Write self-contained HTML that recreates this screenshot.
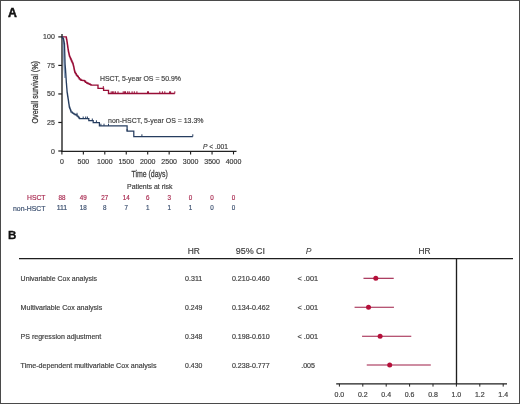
<!DOCTYPE html>
<html><head><meta charset="utf-8"><style>
html,body{margin:0;padding:0;background:#fff;}
#fig{position:relative;width:520px;height:404px;overflow:hidden;background:#fff;}
svg{display:block;font-family:"Liberation Sans", sans-serif;}
#fig{will-change:transform;}
</style></head><body><div id="fig">
<svg width="520" height="404" viewBox="0 0 520 404">
<rect x="0.5" y="0.5" width="519" height="403" fill="#fff" stroke="#4a4a4a" stroke-width="1"/>
<text x="7.9" y="16.6" font-size="12.1" fill="#111" textLength="8.9" lengthAdjust="spacingAndGlyphs" font-weight="bold" stroke="#111" stroke-width="0.45">A</text>
<line x1="62.0" y1="34.0" x2="62.0" y2="152.0" stroke="#333" stroke-width="1.5"/>
<line x1="61.3" y1="151.4" x2="236.5" y2="151.4" stroke="#222" stroke-width="1.25"/>
<line x1="58.3" y1="151.0" x2="61.9" y2="151.0" stroke="#1a1a1a" stroke-width="1.2"/>
<line x1="58.3" y1="122.475" x2="61.9" y2="122.475" stroke="#1a1a1a" stroke-width="1.2"/>
<line x1="58.3" y1="93.95" x2="61.9" y2="93.95" stroke="#1a1a1a" stroke-width="1.2"/>
<line x1="58.3" y1="65.425" x2="61.9" y2="65.425" stroke="#1a1a1a" stroke-width="1.2"/>
<line x1="58.3" y1="36.900000000000006" x2="61.9" y2="36.900000000000006" stroke="#1a1a1a" stroke-width="1.2"/>
<line x1="61.9" y1="151.4" x2="61.9" y2="154.4" stroke="#1a1a1a" stroke-width="1.1"/>
<line x1="83.35" y1="151.4" x2="83.35" y2="154.4" stroke="#1a1a1a" stroke-width="1.1"/>
<line x1="104.8" y1="151.4" x2="104.8" y2="154.4" stroke="#1a1a1a" stroke-width="1.1"/>
<line x1="126.25" y1="151.4" x2="126.25" y2="154.4" stroke="#1a1a1a" stroke-width="1.1"/>
<line x1="147.7" y1="151.4" x2="147.7" y2="154.4" stroke="#1a1a1a" stroke-width="1.1"/>
<line x1="169.15" y1="151.4" x2="169.15" y2="154.4" stroke="#1a1a1a" stroke-width="1.1"/>
<line x1="190.6" y1="151.4" x2="190.6" y2="154.4" stroke="#1a1a1a" stroke-width="1.1"/>
<line x1="212.05" y1="151.4" x2="212.05" y2="154.4" stroke="#1a1a1a" stroke-width="1.1"/>
<line x1="233.5" y1="151.4" x2="233.5" y2="154.4" stroke="#1a1a1a" stroke-width="1.1"/>
<text x="54.8" y="153.5" font-size="7" fill="#404040" text-anchor="end" stroke="#404040" stroke-width="0.18">0</text>
<text x="54.8" y="124.97" font-size="7" fill="#404040" text-anchor="end" stroke="#404040" stroke-width="0.18">25</text>
<text x="54.8" y="96.45" font-size="7" fill="#404040" text-anchor="end" stroke="#404040" stroke-width="0.18">50</text>
<text x="54.8" y="67.92" font-size="7" fill="#404040" text-anchor="end" stroke="#404040" stroke-width="0.18">75</text>
<text x="54.8" y="39.4" font-size="7" fill="#404040" text-anchor="end" stroke="#404040" stroke-width="0.18">100</text>
<text x="61.9" y="163.9" font-size="7" fill="#404040" text-anchor="middle" stroke="#404040" stroke-width="0.18">0</text>
<text x="83.35" y="163.9" font-size="7" fill="#404040" text-anchor="middle" stroke="#404040" stroke-width="0.18">500</text>
<text x="104.8" y="163.9" font-size="7" fill="#404040" text-anchor="middle" stroke="#404040" stroke-width="0.18">1000</text>
<text x="126.25" y="163.9" font-size="7" fill="#404040" text-anchor="middle" stroke="#404040" stroke-width="0.18">1500</text>
<text x="147.7" y="163.9" font-size="7" fill="#404040" text-anchor="middle" stroke="#404040" stroke-width="0.18">2000</text>
<text x="169.15" y="163.9" font-size="7" fill="#404040" text-anchor="middle" stroke="#404040" stroke-width="0.18">2500</text>
<text x="190.6" y="163.9" font-size="7" fill="#404040" text-anchor="middle" stroke="#404040" stroke-width="0.18">3000</text>
<text x="212.05" y="163.9" font-size="7" fill="#404040" text-anchor="middle" stroke="#404040" stroke-width="0.18">3500</text>
<text x="233.5" y="163.9" font-size="7" fill="#404040" text-anchor="middle" stroke="#404040" stroke-width="0.18">4000</text>
<text transform="translate(38.3,123.6) rotate(-90)" x="0" y="0" font-size="9.5" fill="#383838" stroke="#383838" stroke-width="0.28" textLength="62.6" lengthAdjust="spacingAndGlyphs">Overall survival (%)</text>
<text x="131.4" y="176.8" font-size="9.0" fill="#404040" textLength="36.4" lengthAdjust="spacingAndGlyphs" stroke="#404040" stroke-width="0.26">Time (days)</text>
<text x="203.0" y="148.8" font-size="6.6" fill="#404040" textLength="25.0" lengthAdjust="spacingAndGlyphs" stroke="#404040" stroke-width="0.18"><tspan font-style="italic">P</tspan> &lt; .001</text>
<text x="100.0" y="80.9" font-size="7.6" fill="#404040" textLength="81.0" lengthAdjust="spacingAndGlyphs" stroke="#404040" stroke-width="0.18">HSCT, 5-year OS = 50.9%</text>
<text x="108.1" y="122.6" font-size="7.6" fill="#404040" textLength="95.4" lengthAdjust="spacingAndGlyphs" stroke="#404040" stroke-width="0.18">non-HSCT, 5-year OS = 13.3%</text>
<text x="127.0" y="188.6" font-size="7.0" fill="#404040" textLength="45.5" lengthAdjust="spacingAndGlyphs" stroke="#404040" stroke-width="0.18">Patients at risk</text>
<text x="27.0" y="199.6" font-size="7.7" fill="#a8284f" textLength="18.5" lengthAdjust="spacingAndGlyphs" stroke="#a8284f" stroke-width="0.18">HSCT</text>
<text x="13.0" y="210.5" font-size="7.6" fill="#3a4e6e" textLength="32.5" lengthAdjust="spacingAndGlyphs" stroke="#3a4e6e" stroke-width="0.18">non-HSCT</text>
<text x="61.9" y="199.5" font-size="7.3" fill="#a8284f" text-anchor="middle" textLength="7.0" lengthAdjust="spacingAndGlyphs" stroke="#a8284f" stroke-width="0.18">88</text>
<text x="61.9" y="210.4" font-size="7.3" fill="#3a4e6e" text-anchor="middle" textLength="10.5" lengthAdjust="spacingAndGlyphs" stroke="#3a4e6e" stroke-width="0.18">111</text>
<text x="83.35" y="199.5" font-size="7.3" fill="#a8284f" text-anchor="middle" textLength="7.0" lengthAdjust="spacingAndGlyphs" stroke="#a8284f" stroke-width="0.18">49</text>
<text x="83.35" y="210.4" font-size="7.3" fill="#3a4e6e" text-anchor="middle" textLength="7.0" lengthAdjust="spacingAndGlyphs" stroke="#3a4e6e" stroke-width="0.18">18</text>
<text x="104.8" y="199.5" font-size="7.3" fill="#a8284f" text-anchor="middle" textLength="7.0" lengthAdjust="spacingAndGlyphs" stroke="#a8284f" stroke-width="0.18">27</text>
<text x="104.8" y="210.4" font-size="7.3" fill="#3a4e6e" text-anchor="middle" textLength="3.5" lengthAdjust="spacingAndGlyphs" stroke="#3a4e6e" stroke-width="0.18">8</text>
<text x="126.25" y="199.5" font-size="7.3" fill="#a8284f" text-anchor="middle" textLength="7.0" lengthAdjust="spacingAndGlyphs" stroke="#a8284f" stroke-width="0.18">14</text>
<text x="126.25" y="210.4" font-size="7.3" fill="#3a4e6e" text-anchor="middle" textLength="3.5" lengthAdjust="spacingAndGlyphs" stroke="#3a4e6e" stroke-width="0.18">7</text>
<text x="147.7" y="199.5" font-size="7.3" fill="#a8284f" text-anchor="middle" textLength="3.5" lengthAdjust="spacingAndGlyphs" stroke="#a8284f" stroke-width="0.18">6</text>
<text x="147.7" y="210.4" font-size="7.3" fill="#3a4e6e" text-anchor="middle" textLength="3.5" lengthAdjust="spacingAndGlyphs" stroke="#3a4e6e" stroke-width="0.18">1</text>
<text x="169.15" y="199.5" font-size="7.3" fill="#a8284f" text-anchor="middle" textLength="3.5" lengthAdjust="spacingAndGlyphs" stroke="#a8284f" stroke-width="0.18">3</text>
<text x="169.15" y="210.4" font-size="7.3" fill="#3a4e6e" text-anchor="middle" textLength="3.5" lengthAdjust="spacingAndGlyphs" stroke="#3a4e6e" stroke-width="0.18">1</text>
<text x="190.6" y="199.5" font-size="7.3" fill="#a8284f" text-anchor="middle" textLength="3.5" lengthAdjust="spacingAndGlyphs" stroke="#a8284f" stroke-width="0.18">0</text>
<text x="190.6" y="210.4" font-size="7.3" fill="#3a4e6e" text-anchor="middle" textLength="3.5" lengthAdjust="spacingAndGlyphs" stroke="#3a4e6e" stroke-width="0.18">1</text>
<text x="212.05" y="199.5" font-size="7.3" fill="#a8284f" text-anchor="middle" textLength="3.5" lengthAdjust="spacingAndGlyphs" stroke="#a8284f" stroke-width="0.18">0</text>
<text x="212.05" y="210.4" font-size="7.3" fill="#3a4e6e" text-anchor="middle" textLength="3.5" lengthAdjust="spacingAndGlyphs" stroke="#3a4e6e" stroke-width="0.18">0</text>
<text x="233.5" y="199.5" font-size="7.3" fill="#a8284f" text-anchor="middle" textLength="3.5" lengthAdjust="spacingAndGlyphs" stroke="#a8284f" stroke-width="0.18">0</text>
<text x="233.5" y="210.4" font-size="7.3" fill="#3a4e6e" text-anchor="middle" textLength="3.5" lengthAdjust="spacingAndGlyphs" stroke="#3a4e6e" stroke-width="0.18">0</text>
<path d="M62,36.9 L66.0,36.9 L66.27,36.9 L66.27,38.1 L66.53,38.1 L66.53,39.3 L66.8,39.3 L66.8,40.5 L66.96,40.5 L66.96,41.6 L67.12,41.6 L67.12,42.7 L67.28,42.7 L67.28,43.8 L67.44,43.8 L67.44,44.9 L67.6,44.9 L67.6,46.0 L67.77,46.0 L67.77,47.25 L67.95,47.25 L67.95,48.5 L68.12,48.5 L68.12,49.75 L68.3,49.75 L68.3,51.0 L68.54,51.0 L68.54,52.08 L68.78,52.08 L68.78,53.16 L69.02,53.16 L69.02,54.24 L69.26,54.24 L69.26,55.32 L69.5,55.32 L69.5,56.4 L70.0,56.4 L70.0,57.55 L70.5,57.55 L70.5,58.7 L71.0,58.7 L71.0,59.85 L71.5,59.85 L71.5,61.0 L72.0,61.0 L72.0,62.07 L72.5,62.07 L72.5,63.13 L73.0,63.13 L73.0,64.2 L73.27,64.2 L73.27,65.3 L73.53,65.3 L73.53,66.4 L73.8,66.4 L73.8,67.5 L74.0,67.5 L74.0,68.5 L74.2,68.5 L74.2,69.5 L74.4,69.5 L74.4,70.5 L74.65,70.5 L74.65,71.5 L74.9,71.5 L74.9,72.5 L75.55,72.5 L75.55,73.65 L76.2,73.65 L76.2,74.8 L76.85,74.8 L76.85,75.55 L77.5,75.55 L77.5,76.3 L78.35,76.3 L78.35,77.55 L79.2,77.55 L79.2,78.8 L80.1,78.8 L80.1,79.5 L81.0,79.5 L81.0,80.2 L82.0,80.2 L82.0,80.33 L83.0,80.33 L83.0,80.47 L84.0,80.47 L84.0,80.6 L84.8,80.6 L84.8,81.5 L85.6,81.5 L85.6,82.4 L86.7,82.4 L86.7,82.95 L87.8,82.95 L87.8,83.5 L88.67,83.5 L88.67,83.87 L89.53,83.87 L89.53,84.23 L90.4,84.23 L90.4,84.6 L91.0,84.6 L91.0,85.1 L98.0,85.1 L98.0,88.3 L103.6,88.3 L103.6,90.3 L108.5,90.3 L108.5,93.5 L174.8,93.5" fill="none" stroke="#980e37" stroke-width="1.35" stroke-linejoin="miter"/>
<path d="M62.5,38 L64.2,42 L64.6,55 L65.0,68 L65.6,78 L64.2,78 L63.2,62 L62.6,46 Z" fill="#6583a8" opacity="0.75"/>
<path d="M62,36.9 L62.5,36.9 L62.5,37.77 L63.0,37.77 L63.0,38.63 L63.5,38.63 L63.5,39.5 L63.7,39.5 L63.7,40.6 L63.9,40.6 L63.9,41.7 L64.1,41.7 L64.1,42.8 L64.3,42.8 L64.3,43.9 L64.5,43.9 L64.5,45.0 L64.54,45.0 L64.54,46.25 L64.58,46.25 L64.58,47.5 L64.61,47.5 L64.61,48.75 L64.65,48.75 L64.65,50.0 L64.69,50.0 L64.69,51.25 L64.72,51.25 L64.72,52.5 L64.76,52.5 L64.76,53.75 L64.8,53.75 L64.8,55.0 L64.84,55.0 L64.84,56.25 L64.88,56.25 L64.88,57.5 L64.91,57.5 L64.91,58.75 L64.95,58.75 L64.95,60.0 L64.99,60.0 L64.99,61.25 L65.02,61.25 L65.02,62.5 L65.06,62.5 L65.06,63.75 L65.1,63.75 L65.1,65.0 L65.2,65.0 L65.2,66.25 L65.3,66.25 L65.3,67.5 L65.4,67.5 L65.4,68.75 L65.5,68.75 L65.5,70.0 L65.58,70.0 L65.58,71.24 L65.66,71.24 L65.66,72.48 L65.74,72.48 L65.74,73.72 L65.82,73.72 L65.82,74.96 L65.9,74.96 L65.9,76.2 L65.98,76.2 L65.98,77.44 L66.06,77.44 L66.06,78.68 L66.14,78.68 L66.14,79.92 L66.22,79.92 L66.22,81.16 L66.3,81.16 L66.3,82.4 L66.4,82.4 L66.4,83.64 L66.5,83.64 L66.5,84.88 L66.6,84.88 L66.6,86.11 L66.7,86.11 L66.7,87.35 L66.8,87.35 L66.8,88.59 L66.9,88.59 L66.9,89.83 L67.0,89.83 L67.0,91.06 L67.1,91.06 L67.1,92.3 L67.28,92.3 L67.28,93.53 L67.47,93.53 L67.47,94.77 L67.65,94.77 L67.65,96.0 L67.83,96.0 L67.83,97.23 L68.02,97.23 L68.02,98.47 L68.2,98.47 L68.2,99.7 L68.38,99.7 L68.38,100.93 L68.57,100.93 L68.57,102.17 L68.75,102.17 L68.75,103.4 L68.93,103.4 L68.93,104.63 L69.12,104.63 L69.12,105.87 L69.3,105.87 L69.3,107.1 L69.75,107.1 L69.75,108.35 L70.2,108.35 L70.2,109.6 L70.65,109.6 L70.65,110.85 L71.1,110.85 L71.1,112.1 L72.35,112.1 L72.35,113.0 L73.6,113.0 L73.6,113.9 L74.85,113.9 L74.85,114.55 L76.1,114.55 L76.1,115.2 L77.1,115.2 L77.1,116.05 L78.1,116.05 L78.1,116.9 L78.8,116.9 L78.8,117.8 L79.5,117.8 L79.5,118.7 L88.8,118.7 L88.8,120.7 L93.2,120.7 L93.2,122.5 L99.4,122.5 L99.4,125.9 L127.1,125.9 L127.1,131.2 L133.8,131.2 L133.8,136.5 L192.8,136.5" fill="none" stroke="#263d5f" stroke-width="1.25" stroke-linejoin="miter"/>
<line x1="103.3" y1="88.3" x2="103.3" y2="86.1" stroke="#980e37" stroke-width="1.0"/>
<line x1="111.2" y1="93.5" x2="111.2" y2="91.3" stroke="#980e37" stroke-width="1.0"/>
<line x1="112.6" y1="93.5" x2="112.6" y2="91.3" stroke="#980e37" stroke-width="1.0"/>
<line x1="113.8" y1="93.5" x2="113.8" y2="91.3" stroke="#980e37" stroke-width="1.0"/>
<line x1="115.4" y1="93.5" x2="115.4" y2="91.3" stroke="#980e37" stroke-width="1.0"/>
<line x1="118" y1="93.5" x2="118" y2="91.3" stroke="#980e37" stroke-width="1.0"/>
<line x1="123.2" y1="93.5" x2="123.2" y2="91.3" stroke="#980e37" stroke-width="1.0"/>
<line x1="124.4" y1="93.5" x2="124.4" y2="91.3" stroke="#980e37" stroke-width="1.0"/>
<line x1="125.5" y1="93.5" x2="125.5" y2="91.3" stroke="#980e37" stroke-width="1.0"/>
<line x1="127.7" y1="93.5" x2="127.7" y2="91.3" stroke="#980e37" stroke-width="1.0"/>
<line x1="129.2" y1="93.5" x2="129.2" y2="91.3" stroke="#980e37" stroke-width="1.0"/>
<line x1="132.1" y1="93.5" x2="132.1" y2="91.3" stroke="#980e37" stroke-width="1.0"/>
<line x1="134.3" y1="93.5" x2="134.3" y2="91.3" stroke="#980e37" stroke-width="1.0"/>
<line x1="136.9" y1="93.5" x2="136.9" y2="91.3" stroke="#980e37" stroke-width="1.0"/>
<line x1="147.5" y1="93.5" x2="147.5" y2="91.3" stroke="#980e37" stroke-width="1.0"/>
<line x1="148.5" y1="93.5" x2="148.5" y2="91.3" stroke="#980e37" stroke-width="1.0"/>
<line x1="159.8" y1="93.5" x2="159.8" y2="91.3" stroke="#980e37" stroke-width="1.0"/>
<line x1="162.4" y1="93.5" x2="162.4" y2="91.3" stroke="#980e37" stroke-width="1.0"/>
<line x1="164.8" y1="93.5" x2="164.8" y2="91.3" stroke="#980e37" stroke-width="1.0"/>
<line x1="169.6" y1="93.5" x2="169.6" y2="91.3" stroke="#980e37" stroke-width="1.0"/>
<line x1="170.6" y1="93.5" x2="170.6" y2="91.3" stroke="#980e37" stroke-width="1.0"/>
<line x1="174.8" y1="93.5" x2="174.8" y2="91.3" stroke="#980e37" stroke-width="1.0"/>
<line x1="77" y1="115.0" x2="77" y2="112.8" stroke="#263d5f" stroke-width="1.0"/>
<line x1="83.2" y1="118.7" x2="83.2" y2="116.5" stroke="#263d5f" stroke-width="1.0"/>
<line x1="85.7" y1="118.7" x2="85.7" y2="116.5" stroke="#263d5f" stroke-width="1.0"/>
<line x1="87.4" y1="118.7" x2="87.4" y2="116.5" stroke="#263d5f" stroke-width="1.0"/>
<line x1="92.3" y1="120.7" x2="92.3" y2="118.5" stroke="#263d5f" stroke-width="1.0"/>
<line x1="96.4" y1="122.5" x2="96.4" y2="120.3" stroke="#263d5f" stroke-width="1.0"/>
<line x1="100.9" y1="125.9" x2="100.9" y2="123.7" stroke="#263d5f" stroke-width="1.0"/>
<line x1="104" y1="125.9" x2="104" y2="123.7" stroke="#263d5f" stroke-width="1.0"/>
<line x1="108.5" y1="125.9" x2="108.5" y2="123.7" stroke="#263d5f" stroke-width="1.0"/>
<line x1="127.1" y1="131.2" x2="127.1" y2="129.0" stroke="#263d5f" stroke-width="1.0"/>
<line x1="141.9" y1="136.5" x2="141.9" y2="134.3" stroke="#263d5f" stroke-width="1.0"/>
<line x1="192.8" y1="136.5" x2="192.8" y2="134.3" stroke="#263d5f" stroke-width="1.0"/>
<text x="7.9" y="239.2" font-size="11.6" fill="#111" font-weight="bold" stroke="#111" stroke-width="0.3">B</text>
<line x1="19" y1="258.6" x2="513.0" y2="258.6" stroke="#1e1e1e" stroke-width="1.35"/>
<text x="193.85" y="254.2" font-size="8.8" fill="#404040" text-anchor="middle" textLength="12.1" lengthAdjust="spacingAndGlyphs" stroke="#404040" stroke-width="0.18">HR</text>
<text x="250.4" y="254.2" font-size="8.8" fill="#404040" text-anchor="middle" textLength="29.4" lengthAdjust="spacingAndGlyphs" stroke="#404040" stroke-width="0.18">95% CI</text>
<text x="308.6" y="254.2" font-size="8.6" fill="#404040" text-anchor="middle" font-style="italic" stroke-width="0">P</text>
<text x="424.5" y="254.3" font-size="8.8" fill="#404040" text-anchor="middle" textLength="12.0" lengthAdjust="spacingAndGlyphs" stroke="#404040" stroke-width="0.18">HR</text>
<text x="20.6" y="281.0" font-size="7.0" fill="#404040" textLength="76.5" lengthAdjust="spacingAndGlyphs" stroke="#404040" stroke-width="0.18">Univariable Cox analysis</text>
<text x="193.7" y="281.0" font-size="7.0" fill="#404040" text-anchor="middle" textLength="17.2" lengthAdjust="spacingAndGlyphs" stroke="#404040" stroke-width="0.18">0.311</text>
<text x="250.8" y="281.0" font-size="7.0" fill="#404040" text-anchor="middle" textLength="37.8" lengthAdjust="spacingAndGlyphs" stroke="#404040" stroke-width="0.18">0.210-0.460</text>
<text x="307.8" y="281.0" font-size="7.0" fill="#404040" text-anchor="middle" textLength="20.6" lengthAdjust="spacingAndGlyphs" stroke="#404040" stroke-width="0.18">&lt; .001</text>
<line x1="363.47" y1="278.3" x2="393.72" y2="278.3" stroke="#9e1c46" stroke-width="1.1"/>
<circle cx="375.79" cy="278.3" r="2.5" fill="#b5103a"/>
<text x="20.6" y="309.9" font-size="7.0" fill="#404040" textLength="81.6" lengthAdjust="spacingAndGlyphs" stroke="#404040" stroke-width="0.18">Multivariable Cox analysis</text>
<text x="193.7" y="309.9" font-size="7.0" fill="#404040" text-anchor="middle" textLength="17.2" lengthAdjust="spacingAndGlyphs" stroke="#404040" stroke-width="0.18">0.249</text>
<text x="250.8" y="309.9" font-size="7.0" fill="#404040" text-anchor="middle" textLength="37.8" lengthAdjust="spacingAndGlyphs" stroke="#404040" stroke-width="0.18">0.134-0.462</text>
<text x="307.8" y="309.9" font-size="7.0" fill="#404040" text-anchor="middle" textLength="20.6" lengthAdjust="spacingAndGlyphs" stroke="#404040" stroke-width="0.18">&lt; .001</text>
<line x1="354.58" y1="307.2" x2="393.95" y2="307.2" stroke="#9e1c46" stroke-width="1.1"/>
<circle cx="368.53" cy="307.2" r="2.5" fill="#b5103a"/>
<text x="20.6" y="338.9" font-size="7.0" fill="#404040" textLength="80.6" lengthAdjust="spacingAndGlyphs" stroke="#404040" stroke-width="0.18">PS regression adjustment</text>
<text x="193.7" y="338.9" font-size="7.0" fill="#404040" text-anchor="middle" textLength="17.2" lengthAdjust="spacingAndGlyphs" stroke="#404040" stroke-width="0.18">0.348</text>
<text x="250.8" y="338.9" font-size="7.0" fill="#404040" text-anchor="middle" textLength="37.8" lengthAdjust="spacingAndGlyphs" stroke="#404040" stroke-width="0.18">0.198-0.610</text>
<text x="307.8" y="338.9" font-size="7.0" fill="#404040" text-anchor="middle" textLength="20.6" lengthAdjust="spacingAndGlyphs" stroke="#404040" stroke-width="0.18">&lt; .001</text>
<line x1="362.07" y1="336.3" x2="411.27" y2="336.3" stroke="#9e1c46" stroke-width="1.1"/>
<circle cx="380.12" cy="336.3" r="2.5" fill="#b5103a"/>
<text x="20.6" y="367.6" font-size="7.0" fill="#404040" textLength="135.9" lengthAdjust="spacingAndGlyphs" stroke="#404040" stroke-width="0.18">Time-dependent multivariable Cox analysis</text>
<text x="193.7" y="367.6" font-size="7.0" fill="#404040" text-anchor="middle" textLength="17.2" lengthAdjust="spacingAndGlyphs" stroke="#404040" stroke-width="0.18">0.430</text>
<text x="250.8" y="367.6" font-size="7.0" fill="#404040" text-anchor="middle" textLength="37.8" lengthAdjust="spacingAndGlyphs" stroke="#404040" stroke-width="0.18">0.238-0.777</text>
<text x="308.1" y="367.6" font-size="7.0" fill="#404040" text-anchor="middle" textLength="13.8" lengthAdjust="spacingAndGlyphs" stroke="#404040" stroke-width="0.18">.005</text>
<line x1="366.75" y1="365.0" x2="430.81" y2="365.0" stroke="#9e1c46" stroke-width="1.1"/>
<circle cx="389.71" cy="365.0" r="2.5" fill="#b5103a"/>
<line x1="456.5" y1="258.6" x2="456.5" y2="384.0" stroke="#1e1e1e" stroke-width="1.35"/>
<line x1="336.2" y1="383.9" x2="507.0" y2="383.9" stroke="#1e1e1e" stroke-width="1.35"/>
<line x1="339.4" y1="383.9" x2="339.4" y2="386.6" stroke="#222" stroke-width="1.0"/>
<text x="339.4" y="396.8" font-size="7.0" fill="#404040" text-anchor="middle" stroke="#404040" stroke-width="0.18">0.0</text>
<line x1="362.8" y1="383.9" x2="362.8" y2="386.6" stroke="#222" stroke-width="1.0"/>
<text x="362.8" y="396.8" font-size="7.0" fill="#404040" text-anchor="middle" stroke="#404040" stroke-width="0.18">0.2</text>
<line x1="386.2" y1="383.9" x2="386.2" y2="386.6" stroke="#222" stroke-width="1.0"/>
<text x="386.2" y="396.8" font-size="7.0" fill="#404040" text-anchor="middle" stroke="#404040" stroke-width="0.18">0.4</text>
<line x1="409.6" y1="383.9" x2="409.6" y2="386.6" stroke="#222" stroke-width="1.0"/>
<text x="409.6" y="396.8" font-size="7.0" fill="#404040" text-anchor="middle" stroke="#404040" stroke-width="0.18">0.6</text>
<line x1="433.0" y1="383.9" x2="433.0" y2="386.6" stroke="#222" stroke-width="1.0"/>
<text x="433.0" y="396.8" font-size="7.0" fill="#404040" text-anchor="middle" stroke="#404040" stroke-width="0.18">0.8</text>
<line x1="456.4" y1="383.9" x2="456.4" y2="386.6" stroke="#222" stroke-width="1.0"/>
<text x="456.4" y="396.8" font-size="7.0" fill="#404040" text-anchor="middle" stroke="#404040" stroke-width="0.18">1.0</text>
<line x1="479.8" y1="383.9" x2="479.8" y2="386.6" stroke="#222" stroke-width="1.0"/>
<text x="479.8" y="396.8" font-size="7.0" fill="#404040" text-anchor="middle" stroke="#404040" stroke-width="0.18">1.2</text>
<line x1="503.2" y1="383.9" x2="503.2" y2="386.6" stroke="#222" stroke-width="1.0"/>
<text x="503.2" y="396.8" font-size="7.0" fill="#404040" text-anchor="middle" stroke="#404040" stroke-width="0.18">1.4</text>
</svg></div></body></html>
